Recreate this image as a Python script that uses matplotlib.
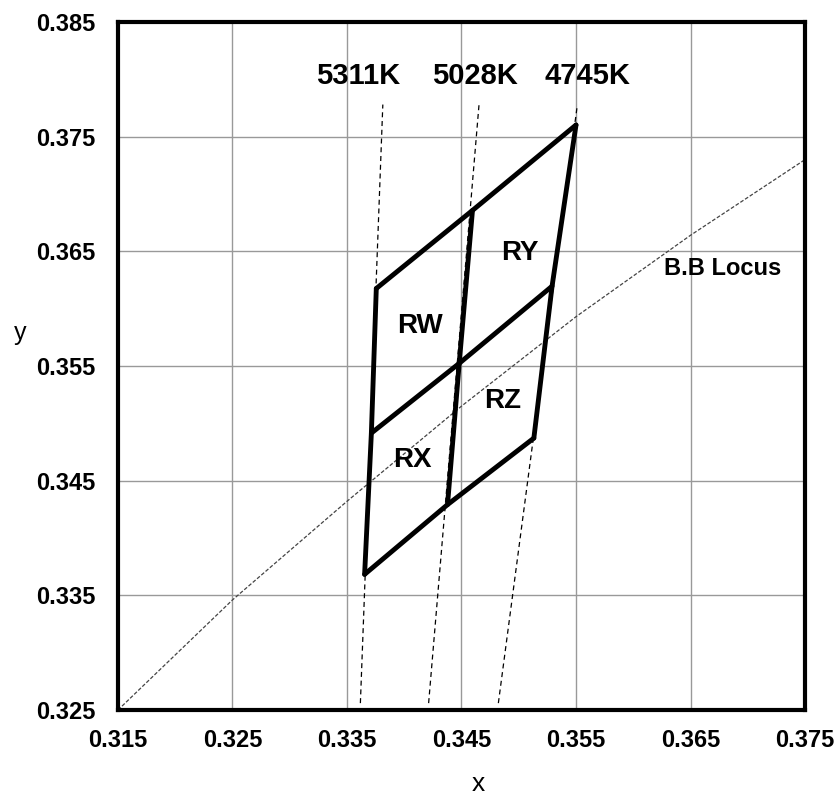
import matplotlib
matplotlib.use("Agg")
import matplotlib.pyplot as plt

plt.rcParams['font.family'] = ['Liberation Sans', 'DejaVu Sans']

# Black-body (Planckian) locus
locus_x = [0.315, 0.325, 0.335, 0.345, 0.355, 0.365, 0.375]
locus_y = [0.325, 0.3346, 0.3432, 0.3515, 0.3593, 0.3664, 0.3730]

# Isotherm lines (CCT)
cct_labels = ['5311K', '5028K', '4745K']
iso_top_x = [0.33813, 0.34654, 0.35512]
iso_top_y = [0.3778, 0.3779, 0.3778]
iso_bot_x = [0.33617, 0.34213, 0.34822]
iso_bot_y = [0.3256, 0.3256, 0.3256]

# Quadrangle corner grid: rows bottom->top, columns left->right
grid_x = [[0.33654, 0.34378, 0.35132],
          [0.33713, 0.34480, 0.35291],
          [0.33756, 0.34596, 0.35500]]
grid_y = [[0.33683, 0.34291, 0.34871],
          [0.34915, 0.35523, 0.36196],
          [0.36176, 0.36857, 0.37602]]

region_labels = ['RW', 'RY', 'RX', 'RZ']
region_x = [0.34142, 0.35006, 0.34068, 0.34857]
region_y = [0.35848, 0.36489, 0.34680, 0.35194]

x_ticks = [0.315, 0.325, 0.335, 0.345, 0.355, 0.365, 0.375]
y_ticks = [0.325, 0.335, 0.345, 0.355, 0.365, 0.375, 0.385]

fig = plt.figure(figsize=(8.39, 8.0), dpi=100)
ax = fig.add_axes([0.1406, 0.1125, 0.8189, 0.86])
ax.set_xlim(0.315, 0.375)
ax.set_ylim(0.325, 0.385)
ax.set_xticks(x_ticks)
ax.set_yticks(y_ticks)
ax.set_xticklabels([f"{v:.3f}" for v in x_ticks], fontsize=17, fontweight='bold')
ax.set_yticklabels([f"{v:.3f}" for v in y_ticks], fontsize=17, fontweight='bold')
ax.tick_params(length=0, pad=14)
ax.tick_params(axis='y', pad=16)
ax.grid(True, color='#999999', linewidth=1.0)
ax.set_axisbelow(True)
for sp in ax.spines.values():
    sp.set_linewidth(3.0)
    sp.set_color('black')

# locus
ax.plot(locus_x, locus_y, color='#444444', linewidth=0.9, linestyle=(0, (3, 1.5)))
ax.text(0.36784, 0.36353, 'B.B Locus', fontsize=17, fontweight='bold',
        ha='center', va='center')

# isotherms
for lab, tx, ty, bx, by in zip(cct_labels, iso_top_x, iso_top_y, iso_bot_x, iso_bot_y):
    ax.plot([bx, tx], [by, ty], color='black', linewidth=0.9, linestyle=(0, (4, 3)))
label_x = [0.33596, 0.34618, 0.35600]
for lab, lx in zip(cct_labels, label_x):
    ax.text(lx, 0.38027, lab, fontsize=21, fontweight='bold', ha='center', va='center')

# quadrangles
for r in range(3):
    ax.plot(grid_x[r], grid_y[r], color='black', linewidth=3.5, solid_capstyle='round',
            solid_joinstyle='miter')
for c in range(3):
    ax.plot([grid_x[r][c] for r in range(3)], [grid_y[r][c] for r in range(3)],
            color='black', linewidth=3.5, solid_capstyle='round')

for lab, rx, ry in zip(region_labels, region_x, region_y):
    ax.text(rx, ry, lab, fontsize=20, fontweight='bold', ha='center', va='center')

fig.text(478 / 839, 1 - 784 / 800, 'x', fontsize=19, ha='center', va='center')
fig.text(20 / 839, 1 - 333 / 800, 'y', fontsize=18, ha='center', va='center')

fig.savefig('out.png', dpi=100)
